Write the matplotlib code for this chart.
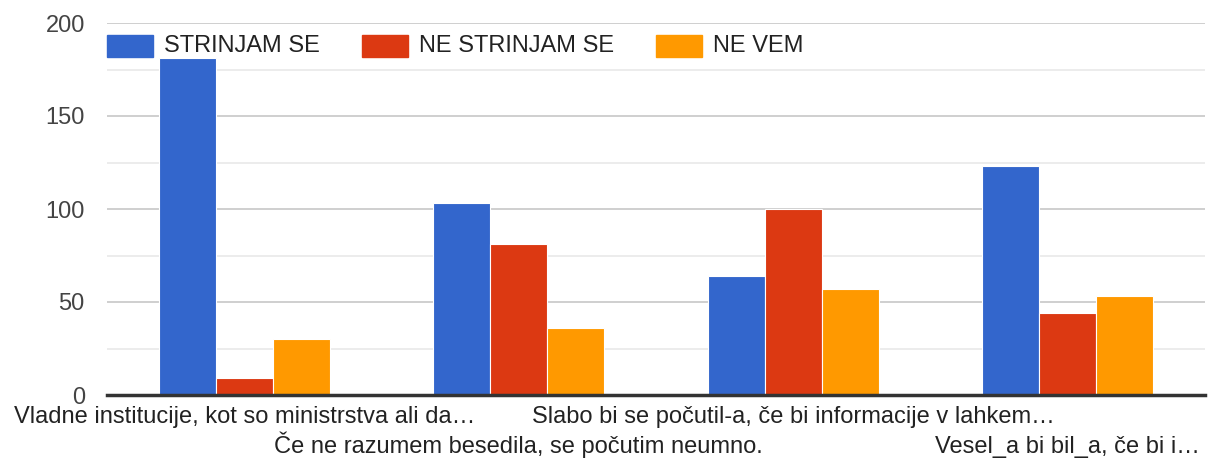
import numpy as np
import matplotlib
matplotlib.use("Agg")
import matplotlib.pyplot as plt
import matplotlib.transforms as mtransforms
from matplotlib.patches import Rectangle
from matplotlib.ticker import MultipleLocator

# --- DATA ---
KATEGORIJE = [
    "Vladne institucije, kot so ministrstva ali da…",
    "Če ne razumem besedila, se počutim neumno.",
    "Slabo bi se počutil-a, če bi informacije v lahkem…",
    "Vesel_a bi bil_a, če bi i…",
]
SERIJE = ["STRINJAM SE", "NE STRINJAM SE", "NE VEM"]
STRINJAM = [181, 103, 64, 123]
NE_STRINJAM = [9, 81, 100, 44]
NE_VEM = [30, 36, 57, 53]
Y_TICKS = [0, 50, 100, 150, 200]

# --- STYLE ---
BARVE = ["#3366cc", "#dc3912", "#ff9900"]
W, H = 1208, 459
plt.rcParams["font.family"] = ["Liberation Sans", "DejaVu Sans"]
FS = 17

fig = plt.figure(figsize=(W / 100, H / 100), dpi=100)
ax = fig.add_axes([107 / W, 1 - 395 / H, 1098 / W, 372 / H])

x = np.arange(len(KATEGORIJE))
w = 0.2077
for i, vals in enumerate([STRINJAM, NE_STRINJAM, NE_VEM]):
    ax.bar(x + (i - 1) * w, vals, width=w, color=BARVE[i], edgecolor="white",
           linewidth=0.8, zorder=3)

ax.set_xlim(-0.5, len(KATEGORIJE) - 0.5)
ax.set_ylim(0, 200)
ax.set_yticks(Y_TICKS)
ax.yaxis.set_minor_locator(MultipleLocator(25))
ax.grid(True, axis="y", which="major", color="#cccccc", linewidth=1.3, zorder=0)
ax.grid(True, axis="y", which="minor", color="#ebebeb", linewidth=1.3, zorder=0)
for s in ["top", "right", "left"]:
    ax.spines[s].set_visible(False)
ax.spines["bottom"].set_color("#333333")
ax.spines["bottom"].set_linewidth(2.5)
ax.spines["bottom"].set_zorder(4)

ax.tick_params(axis="y", which="both", length=0, pad=16, labelsize=FS, labelcolor="#444444")
ax.set_xticks(x)
ax.set_xticklabels([])
ax.tick_params(axis="x", length=0)

# kategorije v dveh vrsticah (izmenicno)
trans = mtransforms.blended_transform_factory(ax.transData, fig.transFigure)
for i, k in enumerate(KATEGORIJE):
    yb = 1 - 423 / H if i % 2 == 0 else 1 - 453 / H
    ax.text(i, yb, k, transform=trans, ha="center", va="baseline",
            fontsize=FS, color="#222222")

# legenda
LEG_X = [107, 362, 656]
for i, lbl in enumerate(SERIJE):
    fig.patches.append(Rectangle((LEG_X[i] / W, 1 - 57 / H), 46 / W, 22 / H,
                                 transform=fig.transFigure, color=BARVE[i]))
    fig.text((LEG_X[i] + 57) / W, 1 - 46 / H, lbl, ha="left", va="center",
             fontsize=FS, color="#222222")

plt.savefig("out.png", dpi=100)
plt.close()
